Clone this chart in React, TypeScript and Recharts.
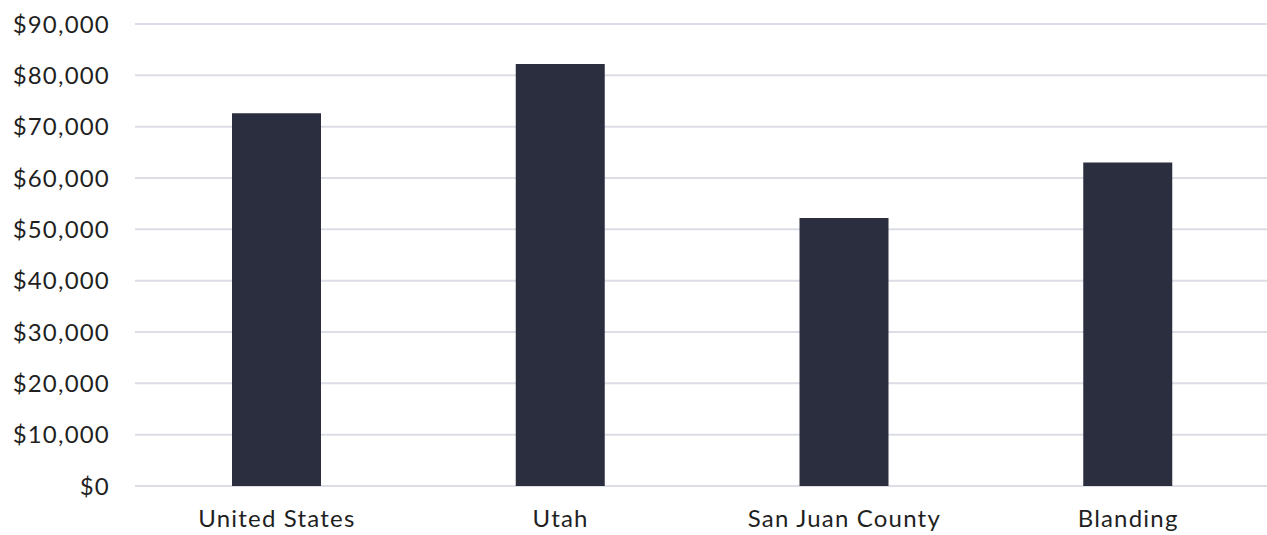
import React from 'react';
import { BarChart, Bar, XAxis, YAxis, CartesianGrid } from 'recharts';

const places = ['United States', 'Utah', 'San Juan County', 'Blanding'];
const incomes = [72600, 82200, 52200, 63000];
const yTicks = [0, 10000, 20000, 30000, 40000, 50000, 60000, 70000, 80000, 90000];

const data = places.map((place, i) => ({ place, income: incomes[i] }));

const fmt = (v: number) => '$' + v.toLocaleString('en-US');

const tickStyle = {
  fontSize: 24,
  fill: '#1f1f1f',
  fontFamily: 'Lato, "Noto Sans", sans-serif',
  letterSpacing: 1.2,
};

const App: React.FC = () => {
  return (
    <div style={{ position: 'absolute', left: 0, top: 0, background: '#fff' }}>
      <BarChart
        width={1267}
        height={535}
        data={data}
        margin={{ top: 24, right: -3, left: 0, bottom: 0 }}
        barSize={89}
      >
        <CartesianGrid vertical={false} stroke="#dcdde6" strokeWidth={2} />
        <XAxis
          dataKey="place"
          axisLine={false}
          tickLine={false}
          tickSize={0}
          tickMargin={24}
          height={49}
          tick={tickStyle}
        />
        <YAxis
          domain={[0, 90000]}
          ticks={yTicks}
          tickFormatter={fmt}
          axisLine={false}
          tickLine={false}
          tickSize={0}
          tickMargin={25}
          width={135}
          tick={tickStyle}
        />
        <Bar dataKey="income" fill="#2b2e3e" isAnimationActive={false} />
      </BarChart>
    </div>
  );
};

export default App;
